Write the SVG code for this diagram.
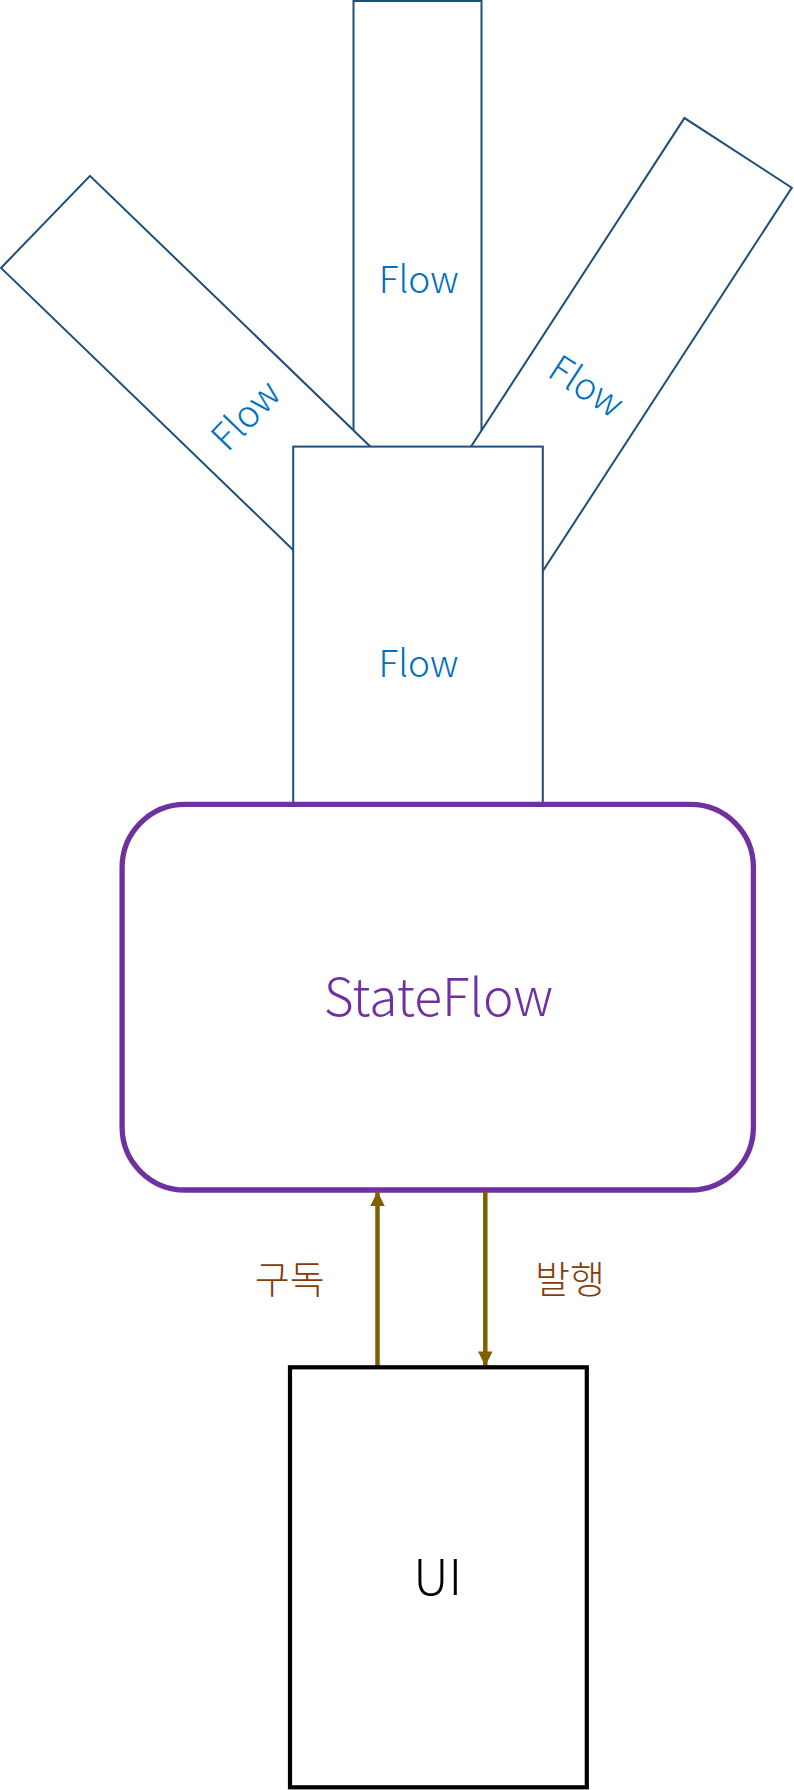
<svg xmlns="http://www.w3.org/2000/svg" width="794" height="1790" viewBox="0 0 794 1790">
  <style>
    .flow { fill: #ffffff; stroke: #1F4E79; stroke-width: 2; }
    .flowText { font-family: "Noto Sans CJK KR", "Noto Sans", sans-serif; font-weight: 300; font-size: 37px; fill: #0070C0; text-anchor: middle; }
    .big { font-family: "Noto Sans CJK KR", "Noto Sans", sans-serif; font-weight: 300; text-anchor: middle; }
    .lbl { font-family: "Noto Sans CJK KR", sans-serif; font-weight: 300; font-size: 38px; fill: #843C0C; text-anchor: middle; }
    .arrow { stroke: #7F6000; stroke-width: 4.5; fill: none; }
  </style>
  <defs>
    <marker id="ah" markerUnits="userSpaceOnUse" markerWidth="15" markerHeight="15" refX="14.6" refY="7.3" orient="auto">
      <path d="M0,0 L14.6,7.3 L0,14.6 Z" fill="#7F6000"/>
    </marker>
  </defs>
  <rect width="794" height="1790" fill="#ffffff"/>

  <g id="flow-top">
    <rect class="flow" x="353.5" y="1" width="128" height="556"/>
    <text class="flowText" x="418.8" y="292.8">Flow</text>
  </g>
  <g id="flow-left" transform="translate(245.5,415) rotate(-46)">
    <rect class="flow" x="-64" y="-278" width="128" height="556"/>
    <text class="flowText" x="0" y="13.5">Flow</text>
  </g>
  <g id="flow-right" transform="translate(586.7,386) rotate(33)">
    <rect class="flow" x="-64" y="-278" width="128" height="556"/>
    <text class="flowText" x="0" y="13.5">Flow</text>
  </g>
  <g id="flow-main">
    <rect class="flow" x="293.2" y="446.6" width="249.6" height="433"/>
    <text class="flowText" x="418.5" y="677">Flow</text>
  </g>
  <g id="stateflow">
    <rect x="122.1" y="804.3" width="631.3" height="385.7" rx="63" ry="63" fill="#ffffff" stroke="#7030A0" stroke-width="5.3"/>
    <text class="big" x="438.4" y="1015.6" font-size="51.5" fill="#7030A0">StateFlow</text>
  </g>
  <g id="connectors">
    <line class="arrow" x1="377.5" y1="1367" x2="377.5" y2="1191.5" marker-end="url(#ah)"/>
    <line class="arrow" x1="485.3" y1="1192" x2="485.3" y2="1366" marker-end="url(#ah)"/>
    <text class="lbl" x="289.7" y="1293">구독</text>
    <text class="lbl" x="570" y="1293">발행</text>
  </g>
  <g id="ui">
    <rect x="290" y="1367.3" width="296.8" height="420" fill="#ffffff" stroke="#000000" stroke-width="4.2"/>
    <text class="big" x="437.8" y="1595" font-size="50" fill="#000000">UI</text>
  </g>
</svg>
